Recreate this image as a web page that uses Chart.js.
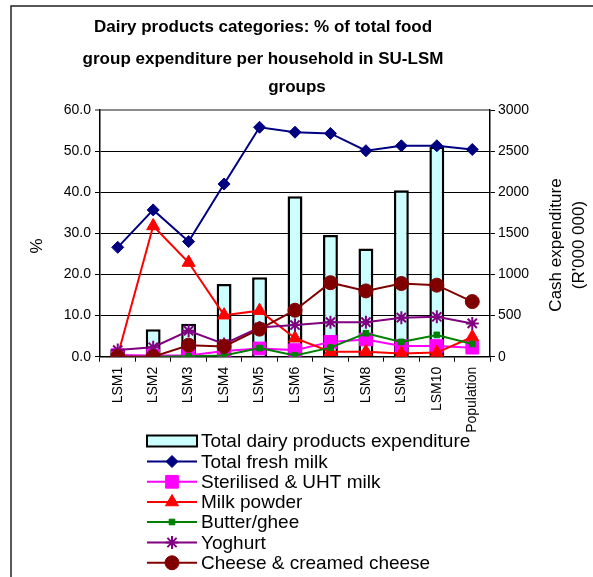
<!DOCTYPE html>
<html>
<head>
<meta charset="utf-8">
<script src="https://cdn.jsdelivr.net/npm/chart.js@4/dist/chart.umd.min.js"></script>
<style>
  html, body { margin: 0; padding: 0; background: #ffffff; }
  #wrap { position: relative; width: 593px; height: 577px; }
</style>
</head>
<body>
<div id="wrap"><canvas id="chart" width="593" height="577"></canvas></div>
<script>
// Categories (SU-LSM groups)
const categories = ['LSM1', 'LSM2', 'LSM3', 'LSM4', 'LSM5', 'LSM6', 'LSM7', 'LSM8', 'LSM9', 'LSM10', 'Population'];

// Cash expenditure on dairy products, R'000 000 (right axis)
const totalDairyExpenditure = [90, 335, 400, 885, 965, 1950, 1480, 1315, 2025, 2555, null];

// Share of total food group expenditure, % (left axis)
const totalFreshMilk   = [26.6, 35.7, 28.0, 42.0, 55.8, 54.6, 54.3, 50.1, 51.3, 51.3, 50.4];
const sterilisedUht    = [0.4, 0.3, 0.3, 1.4, 2.0, 1.6, 3.6, 4.2, 2.6, 2.6, 2.2];
const milkPowder       = [0.3, 31.8, 22.9, 10.1, 11.2, 4.5, 1.2, 1.2, 0.8, 1.0, 4.8];
const butterGhee       = [0.0, 0.0, 0.1, 0.3, 2.1, 0.3, 2.2, 5.7, 3.6, 5.3, 3.1];
const yoghurt          = [1.6, 2.3, 6.3, 3.1, 7.1, 7.7, 8.4, 8.4, 9.5, 9.7, 8.1];
const cheeseCreamed    = [0.0, 0.0, 2.8, 2.5, 6.7, 11.3, 18.0, 16.0, 17.8, 17.4, 13.4];

// Axis tick ranges
const percentTicks = { min: 0, max: 60, step: 10 };
const cashTicks = { min: 0, max: 3000, step: 500 };

const FONT = '"Liberation Sans", Arial, Helvetica, sans-serif';

const lineSeries = [
  { label: 'Total fresh milk', data: totalFreshMilk, color: '#000080', style: 'rectRot', radius: 6, order: 6 },
  { label: 'Sterilised & UHT milk', data: sterilisedUht, color: '#FF00FF', style: 'rect', radius: 9, order: 5 },
  { label: 'Milk powder', data: milkPowder, color: '#FF0000', style: 'triangle', radius: 7.5, order: 4 },
  { label: 'Butter/ghee', data: butterGhee, color: '#008000', style: 'rect', radius: 4, order: 3 },
  { label: 'Yoghurt', data: yoghurt, color: '#800080', style: 'star', radius: 6.5, order: 2 },
  { label: 'Cheese & creamed cheese', data: cheeseCreamed, color: '#800000', style: 'circle', radius: 7, order: 1 }
];

const datasets = [
  {
    type: 'bar',
    label: 'Total dairy products expenditure',
    data: totalDairyExpenditure,
    yAxisID: 'y1',
    backgroundColor: '#CCFFFF',
    borderColor: '#000000',
    borderWidth: 2.5,
    borderSkipped: 'bottom',
    categoryPercentage: 1,
    barPercentage: 0.42,
    order: 7
  }
].concat(lineSeries.map(s => ({
  type: 'line',
  label: s.label,
  data: s.data,
  yAxisID: 'y',
  borderColor: s.color,
  backgroundColor: s.color,
  borderWidth: 2,
  tension: 0,
  pointStyle: s.style,
  pointRadius: s.radius,
  pointHoverRadius: s.radius,
  pointBackgroundColor: s.color,
  pointBorderColor: s.color,
  pointBorderWidth: s.style === 'star' ? 2 : 1,
  order: s.order
})));

// Frame, title, axis titles and legend drawn on the canvas
const decorations = {
  id: 'decorations',
  beforeDraw(chart) {
    const ctx = chart.ctx;
    ctx.save();
    ctx.fillStyle = '#ffffff';
    ctx.fillRect(0, 0, chart.width, chart.height);
    ctx.strokeStyle = '#222222';
    ctx.lineWidth = 1.5;
    ctx.beginPath();
    ctx.moveTo(11, 577);
    ctx.lineTo(11, 6);
    ctx.lineTo(593, 6);
    ctx.stroke();
    ctx.restore();
  },
  afterDraw(chart) {
    const ctx = chart.ctx;
    ctx.save();
    ctx.fillStyle = '#000000';

    // Chart title
    ctx.font = 'bold 17px ' + FONT;
    ctx.textAlign = 'center';
    ctx.textBaseline = 'alphabetic';
    ctx.fillText('Dairy products categories: % of total food', 263, 32);
    ctx.fillText('group expenditure per household in SU-LSM', 263, 64);
    ctx.fillText('groups', 297, 92);

    // Axis titles
    ctx.font = '17px ' + FONT;
    ctx.textBaseline = 'middle';
    ctx.save();
    ctx.translate(37, 246);
    ctx.rotate(-Math.PI / 2);
    ctx.fillText('%', 0, 0);
    ctx.restore();
    ctx.save();
    ctx.translate(556, 245);
    ctx.rotate(-Math.PI / 2);
    ctx.fillText('Cash expenditure', 0, 0);
    ctx.restore();
    ctx.save();
    ctx.translate(579, 245);
    ctx.rotate(-Math.PI / 2);
    ctx.fillText("(R'000 000)", 0, 0);
    ctx.restore();

    // Legend
    const rowY = [441, 461.5, 481.8, 502, 522, 542.5, 562.8];
    const x0 = 147, x1 = 197, textX = 201;
    ctx.font = '19px ' + FONT;
    ctx.textAlign = 'left';
    ctx.textBaseline = 'middle';

    const bar = chart.data.datasets[0];
    ctx.fillStyle = bar.backgroundColor;
    ctx.fillRect(x0, rowY[0] - 5.5, x1 - x0, 11);
    ctx.strokeStyle = '#000000';
    ctx.lineWidth = 2;
    ctx.strokeRect(x0, rowY[0] - 5.5, x1 - x0, 11);
    ctx.fillStyle = '#000000';
    ctx.fillText(bar.label, textX, rowY[0] + 1);

    lineSeries.forEach((s, i) => {
      const y = rowY[i + 1];
      ctx.strokeStyle = s.color;
      ctx.lineWidth = 2;
      ctx.beginPath();
      ctx.moveTo(x0, y);
      ctx.lineTo(x1, y);
      ctx.stroke();
      ctx.fillStyle = s.color;
      ctx.lineWidth = s.style === 'star' ? 2 : 1;
      Chart.helpers.drawPoint(ctx, {
        pointStyle: s.style,
        radius: s.radius,
        rotation: 0,
        borderWidth: ctx.lineWidth
      }, (x0 + x1) / 2, y);
      ctx.fillStyle = '#000000';
      ctx.fillText(s.label, textX, y + 1);
    });
    ctx.restore();
  }
};

new Chart(document.getElementById('chart'), {
  type: 'bar',
  data: { labels: categories, datasets: datasets },
  plugins: [decorations],
  options: {
    responsive: false,
    animation: false,
    events: [],
    layout: { padding: { top: 110, left: 0, right: 0, bottom: 140.3 } },
    plugins: {
      legend: { display: false },
      title: { display: false },
      tooltip: { enabled: false }
    },
    scales: {
      x: {
        offset: true,
        grid: {
          offset: true,
          drawOnChartArea: false,
          drawTicks: true,
          tickLength: 5,
          color: '#000000'
        },
        border: { display: true, color: '#000000', width: 1.5 },
        ticks: {
          autoSkip: false,
          minRotation: 90,
          maxRotation: 90,
          padding: 5,
          color: '#000000',
          font: { family: FONT, size: 14 }
        },
        afterFit(scale) { scale.height = 80; }
      },
      y: {
        position: 'left',
        min: percentTicks.min,
        max: percentTicks.max,
        ticks: {
          stepSize: percentTicks.step,
          padding: 4,
          color: '#000000',
          font: { family: FONT, size: 14 },
          callback: v => Number(v).toFixed(1)
        },
        grid: {
          drawTicks: true,
          tickLength: 5,
          color: ctx => (ctx.tick && ctx.tick.value === percentTicks.max) ? '#8c8c8c' : '#000000',
          lineWidth: ctx => (ctx.tick && ctx.tick.value === percentTicks.max) ? 2 : 1
        },
        border: { display: true, color: '#000000', width: 1.5 },
        afterFit(scale) { scale.width = 100; }
      },
      y1: {
        position: 'right',
        min: cashTicks.min,
        max: cashTicks.max,
        ticks: {
          stepSize: cashTicks.step,
          padding: 3,
          color: '#000000',
          font: { family: FONT, size: 14 },
          callback: v => String(Math.round(v))
        },
        grid: {
          drawOnChartArea: false,
          drawTicks: true,
          tickLength: 5,
          color: '#000000'
        },
        border: { display: true, color: '#000000', width: 1.5 },
        afterFit(scale) { scale.width = 103; }
      }
    }
  }
});
</script>
</body>
</html>
